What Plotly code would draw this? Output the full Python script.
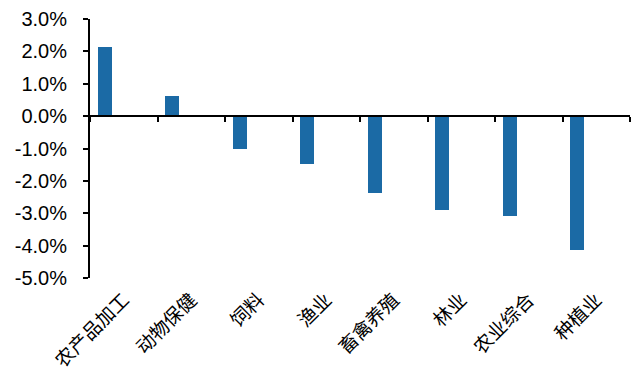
import plotly.graph_objects as go

categories = ["农产品加工", "动物保健", "饲料", "渔业", "畜禽养殖", "林业", "农业综合", "种植业"]
values = [2.12, 0.62, -1.01, -1.48, -2.38, -2.90, -3.10, -4.12]
y_ticks = [3, 2, 1, 0, -1, -2, -3, -4, -5]
y_tick_labels = [f"{v:.1f}%" for v in y_ticks]

n = len(categories)
xs = list(range(n))
bar_color = "#1B6AA5"

fig = go.Figure()
fig.add_trace(go.Bar(
    x=xs, y=values, width=0.21, offset=-0.385,
    marker=dict(color=bar_color, line=dict(width=0)),
    xaxis="x", yaxis="y", showlegend=False, hoverinfo="skip",
))
# invisible trace for the bottom label axis
fig.add_trace(go.Scatter(
    x=xs, y=[0] * n, mode="markers", marker=dict(opacity=0),
    xaxis="x2", yaxis="y", showlegend=False, hoverinfo="skip",
))

zero_pos = (0 - y_ticks[-1]) / (y_ticks[0] - y_ticks[-1])

fig.update_layout(
    width=640, height=379,
    margin=dict(l=90, r=10, t=19, b=101, autoexpand=False),
    paper_bgcolor="white", plot_bgcolor="white",
    bargap=0,
    xaxis=dict(
        range=[-0.5, n - 0.5],
        anchor="free", position=zero_pos,
        tickvals=[i + 0.5 for i in range(-1, n)],
        ticks="outside", ticklen=5, tickwidth=2, tickcolor="black",
        showticklabels=False, showline=True, linecolor="black", linewidth=2,
        showgrid=False, zeroline=False, automargin=False,
    ),
    xaxis2=dict(
        range=[-0.5, n - 0.5], overlaying="x", anchor="y", side="bottom",
        tickvals=xs, ticktext=categories, tickangle=-45,
        ticks="", showline=False, showgrid=False, zeroline=False,
        ticklabelstandoff=6, automargin=False,
        tickfont=dict(family="Noto Sans CJK SC", size=19, color="black"),
    ),
    yaxis=dict(
        range=[y_ticks[-1], y_ticks[0]],
        tickvals=y_ticks, ticktext=y_tick_labels,
        ticks="outside", ticklen=5, tickwidth=2, tickcolor="black",
        showline=True, linecolor="black", linewidth=2,
        showgrid=False, zeroline=False, automargin=False,
        ticklabelstandoff=12,
        tickfont=dict(family="Liberation Sans", size=20, color="black"),
    ),
)

fig.write_html("out.html")
